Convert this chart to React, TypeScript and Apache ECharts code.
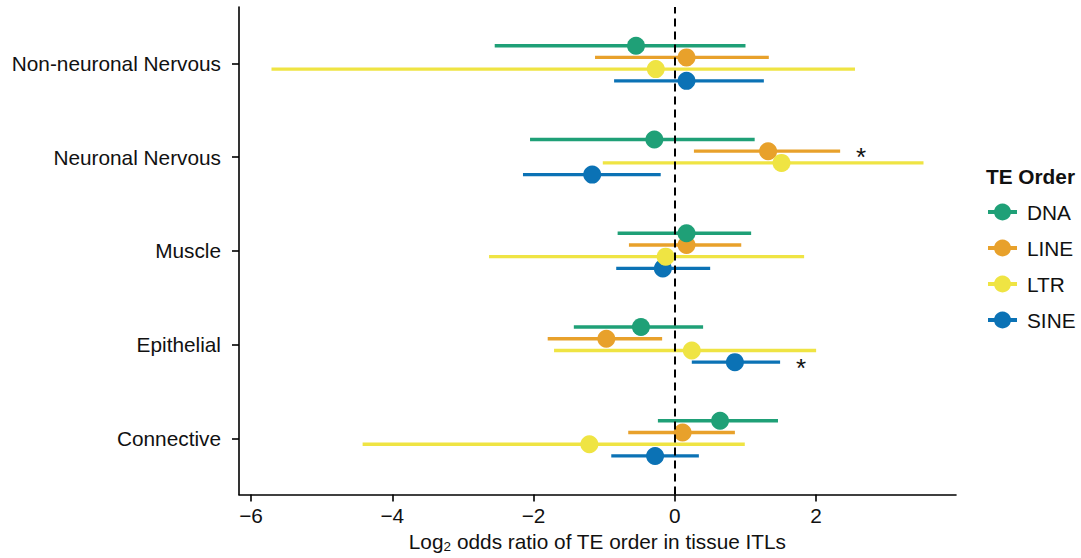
import React, { useEffect, useRef } from "react";
import * as echarts from "echarts";

// Categories from bottom (y = 1) to top (y = 5)
const categories = ["Connective", "Epithelial", "Muscle", "Neuronal Nervous", "Non-neuronal Nervous"];
const teOrders = ["DNA", "LINE", "LTR", "SINE"];
const teColors = ["#1FA077", "#E8A12B", "#EFE443", "#0B72B5"];

// Log2 odds ratio estimates and 95% intervals, in category order
const dnaEst = [0.64, -0.48, 0.165, -0.29, -0.55];
const dnaLow = [-0.24, -1.43, -0.81, -2.05, -2.55];
const dnaHigh = [1.46, 0.4, 1.08, 1.13, 1.0];

const lineEst = [0.11, -0.97, 0.165, 1.32, 0.165];
const lineLow = [-0.66, -1.8, -0.65, 0.27, -1.13];
const lineHigh = [0.85, -0.18, 0.94, 2.34, 1.33];

const ltrEst = [-1.21, 0.24, -0.13, 1.51, -0.27];
const ltrLow = [-4.42, -1.71, -2.63, -1.02, -5.71];
const ltrHigh = [0.99, 2.0, 1.83, 3.52, 2.55];

const sineEst = [-0.28, 0.85, -0.17, -1.17, 0.165];
const sineLow = [-0.9, 0.24, -0.83, -2.15, -0.86];
const sineHigh = [0.34, 1.49, 0.5, -0.2, 1.26];

// significance marks (*)
const dnaSig = [0, 0, 0, 0, 0];
const lineSig = [0, 0, 0, 1, 0];
const ltrSig = [0, 0, 0, 0, 0];
const sineSig = [0, 1, 0, 0, 0];

const xTicks = [-6, -4, -2, 0, 2];
const yTicks = [1, 2, 3, 4, 5];

const FONT = "'Liberation Sans', Arial, Helvetica, sans-serif";
const TEXT = "#111111";
const FS = 20.8;

const estimates = [dnaEst, lineEst, ltrEst, sineEst];
const lows = [dnaLow, lineLow, ltrLow, sineLow];
const highs = [dnaHigh, lineHigh, ltrHigh, sineHigh];
const sigs = [dnaSig, lineSig, ltrSig, sineSig];

export default function App() {
  const ref = useRef<HTMLDivElement>(null);

  useEffect(() => {
    if (!ref.current) return;
    const chart = echarts.init(ref.current, undefined, { renderer: "svg" });

    const dodge = (k: number) => (1.5 - k) * 0.125;

    const makeData = (k: number) =>
      categories.map((_, i) => [estimates[k][i], i + 1, lows[k][i], highs[k][i], sigs[k][i]]);

    const rangeSeries: any[] = [];
    const pointSeries: any[] = [];
    // draw in reverse order so DNA ends on top
    for (let k = teOrders.length - 1; k >= 0; k--) {
      const color = teColors[k];
      const off = dodge(k);
      rangeSeries.push({
        type: "custom",
        name: teOrders[k] + " range",
        data: makeData(k),
        encode: { x: [0, 2, 3], y: 1 },
        z: 2,
        silent: true,
        renderItem: (params: any, api: any) => {
          const y = api.value(1) + off;
          const p0 = api.coord([api.value(2), y]);
          const p1 = api.coord([api.value(3), y]);
          const children: any[] = [
            {
              type: "line",
              shape: { x1: p0[0], y1: p0[1], x2: p1[0], y2: p1[1] },
              style: { stroke: color, lineWidth: 3.4, lineCap: "butt" },
            },
          ];
          if (api.value(4)) {
            children.push({
              type: "text",
              x: p1[0] + 21,
              y: p1[1] + 6,
              style: {
                text: "*",
                fontSize: 26,
                fontFamily: FONT,
                fill: TEXT,
                align: "center",
                verticalAlign: "middle",
              },
            });
          }
          return { type: "group", children };
        },
      });
      pointSeries.push({
        type: "custom",
        name: teOrders[k],
        data: makeData(k),
        encode: { x: [0, 2, 3], y: 1 },
        z: 3,
        silent: true,
        renderItem: (params: any, api: any) => {
          const y = api.value(1) + off;
          const p = api.coord([api.value(0), y]);
          return {
            type: "circle",
            shape: { cx: p[0], cy: p[1], r: 9 },
            style: { fill: color },
          };
        },
      });
    }

    const lastPoint = pointSeries[pointSeries.length - 1];
    lastPoint.markLine = {
      silent: true,
      symbol: "none",
      label: { show: false },
      lineStyle: { color: "#000", width: 2, type: [8, 5] },
      data: [{ xAxis: 0 }],
      z: 10,
    };

    const legendTop = 176;
    const legendGraphics: any[] = [
      {
        type: "text",
        x: 986,
        y: legendTop,
        style: {
          text: "TE Order",
          fontSize: FS,
          fontWeight: "bold",
          fontFamily: FONT,
          fill: TEXT,
          verticalAlign: "middle",
        },
      },
    ];
    teOrders.forEach((name, k) => {
      const cy = 212 + k * 36;
      legendGraphics.push(
        {
          type: "line",
          shape: { x1: 988, y1: cy, x2: 1017, y2: cy },
          style: { stroke: teColors[k], lineWidth: 4 },
        },
        {
          type: "circle",
          shape: { cx: 1002.5, cy, r: 8.5 },
          style: { fill: teColors[k] },
        },
        {
          type: "text",
          x: 1027,
          y: cy,
          style: {
            text: name,
            fontSize: FS,
            fontFamily: FONT,
            fill: TEXT,
            verticalAlign: "middle",
          },
        }
      );
    });

    chart.setOption({
      animation: false,
      backgroundColor: "#ffffff",
      textStyle: { fontFamily: FONT },
      grid: { left: 239, right: 125, top: 7, bottom: 62, containLabel: false },
      xAxis: {
        type: "value",
        min: -6.17,
        max: 3.98,
        name: "Log{sub|2} odds ratio of TE order in tissue ITLs",
        nameLocation: "middle",
        nameGap: 32,
        nameTextStyle: {
          fontSize: FS,
          fontFamily: FONT,
          color: TEXT,
          rich: {
            sub: { fontSize: 13.5, fontFamily: FONT, color: TEXT, padding: [10, 0, 0, 0] },
          },
        },
        axisLine: { show: true, onZero: false, lineStyle: { color: "#000", width: 1.6 } },
        axisTick: { show: true, length: 7, lineStyle: { color: "#000", width: 1.6 }, customValues: xTicks },
        axisLabel: {
          customValues: xTicks,
          fontSize: FS,
          fontFamily: FONT,
          color: TEXT,
          margin: 10,
          formatter: (v: number) => (v < 0 ? "\u2212" + Math.abs(v) : String(v)),
        },
        splitLine: { show: false },
      },
      yAxis: {
        type: "value",
        min: 0.4,
        max: 5.6,
        axisLine: { show: true, onZero: false, lineStyle: { color: "#000", width: 1.6 } },
        axisTick: { show: true, length: 7, lineStyle: { color: "#000", width: 1.6 }, customValues: yTicks },
        axisLabel: {
          customValues: yTicks,
          fontSize: FS,
          fontFamily: FONT,
          color: TEXT,
          margin: 18,
          formatter: (v: number) => categories[Math.round(v) - 1] ?? "",
        },
        splitLine: { show: false },
      },
      graphic: legendGraphics,
      series: [...rangeSeries, ...pointSeries],
    });

    return () => chart.dispose();
  }, []);

  return (
    <div
      ref={ref}
      style={{ position: "absolute", left: 0, top: 0, width: 1081, height: 558, background: "#fff" }}
    />
  );
}
